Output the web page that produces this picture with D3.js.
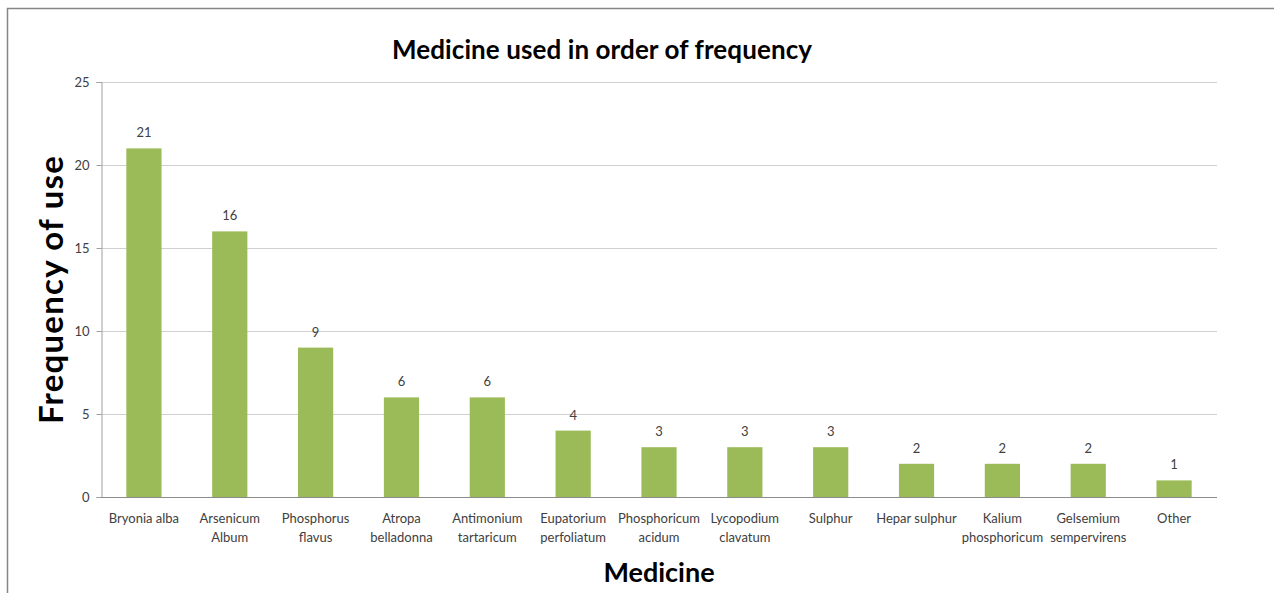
<!DOCTYPE html>
<html>
<head>
<meta charset="utf-8">
<script src="https://cdn.jsdelivr.net/npm/d3@7"></script>
<style>
  body { margin: 0; background: #fff; }
  text { font-family: Lato, "Open Sans", sans-serif; }
</style>
</head>
<body>
<div id="chart"></div>
<script>
// data
const medicines = [
    ["Bryonia alba"], ["Arsenicum", "Album"], ["Phosphorus", "flavus"],
    ["Atropa", "belladonna"], ["Antimonium", "tartaricum"], ["Eupatorium", "perfoliatum"],
    ["Phosphoricum", "acidum"], ["Lycopodium", "clavatum"], ["Sulphur"],
    ["Hepar sulphur"], ["Kalium", "phosphoricum"], ["Gelsemium", "sempervirens"], ["Other"]
];
const frequency = [21, 16, 9, 6, 6, 4, 3, 3, 3, 2, 2, 2, 1];
const yTicks = [0, 5, 10, 15, 20, 25];

const width = 1274, height = 593;
const margin = {top: 82, right: 57, bottom: 96, left: 101};

const svg = d3.select("#chart").append("svg")
    .attr("width", width)
    .attr("height", height);

// outer chart border (only left + top visible)
svg.append("path")
    .attr("d", "M7.5,600 V8.5 H1280")
    .attr("fill", "none")
    .attr("stroke", "#868686")
    .attr("stroke-width", 1.5);

const x = d3.scaleBand()
    .domain(d3.range(medicines.length))
    .range([margin.left, width - margin.right])
    .paddingInner(0.59)
    .paddingOuter(0.295);

const y = d3.scaleLinear()
    .domain([0, 25])
    .range([height - margin.bottom, margin.top]);

// gridlines
svg.append("g")
    .selectAll("line")
    .data(yTicks.slice(1))
    .enter().append("line")
    .attr("x1", margin.left)
    .attr("x2", width - margin.right)
    .attr("y1", d => Math.round(y(d)) + 0.5)
    .attr("y2", d => Math.round(y(d)) + 0.5)
    .attr("stroke", "#d0d0d0");

// y axis
const yAxis = svg.append("g")
    .attr("transform", "translate(" + (margin.left + 0.5) + ",0)")
    .call(d3.axisLeft(y).tickValues(yTicks).tickSize(5).tickPadding(7));
yAxis.select(".domain").attr("stroke", "#a0a0a0");
yAxis.selectAll(".tick line").attr("stroke", "#a0a0a0");
yAxis.selectAll(".tick text")
    .attr("font-size", 13)
    .attr("fill", "#404040");

// bars
svg.append("g")
    .selectAll("rect")
    .data(frequency)
    .enter().append("rect")
    .attr("x", (d, i) => x(i))
    .attr("width", x.bandwidth())
    .attr("y", d => y(d))
    .attr("height", d => y(0) - y(d))
    .attr("fill", "#9bbb59");

// value labels
svg.append("g")
    .selectAll("text")
    .data(frequency)
    .enter().append("text")
    .attr("x", (d, i) => x(i) + x.bandwidth() / 2)
    .attr("y", d => y(d) - 11)
    .attr("text-anchor", "middle")
    .attr("font-size", 13)
    .attr("fill", "#404040")
    .text(d => d);

// x axis baseline
svg.append("line")
    .attr("x1", margin.left)
    .attr("x2", width - margin.right)
    .attr("y1", Math.round(y(0)) + 0.5)
    .attr("y2", Math.round(y(0)) + 0.5)
    .attr("stroke", "#8c8c8c");

// category labels
const cat = svg.append("g")
    .selectAll("text")
    .data(medicines)
    .enter().append("text")
    .attr("x", (d, i) => x(i) + x.bandwidth() / 2)
    .attr("y", y(0) + 26)
    .attr("text-anchor", "middle")
    .attr("font-size", 13)
    .attr("fill", "#404040");
cat.selectAll("tspan")
    .data(d => d)
    .enter().append("tspan")
    .attr("x", function () { return this.parentNode.getAttribute("x"); })
    .attr("dy", (d, i) => i === 0 ? 0 : 19)
    .text(d => d);

// titles
svg.append("text")
    .attr("x", 602)
    .attr("y", 59)
    .attr("text-anchor", "middle")
    .attr("font-size", 26)
    .attr("font-weight", "bold")
    .attr("fill", "#000")
    .attr("textLength", 420)
    .text("Medicine used in order of frequency");

svg.append("text")
    .attr("x", 659)
    .attr("y", 582)
    .attr("text-anchor", "middle")
    .attr("font-size", 27)
    .attr("font-weight", "bold")
    .attr("fill", "#000")
    .text("Medicine");

svg.append("text")
    .attr("transform", "translate(63,290) rotate(-90)")
    .attr("text-anchor", "middle")
    .attr("font-size", 33)
    .attr("font-weight", "bold")
    .attr("fill", "#000")
    .attr("textLength", 268)
    .text("Frequency of use");
</script>
</body>
</html>
